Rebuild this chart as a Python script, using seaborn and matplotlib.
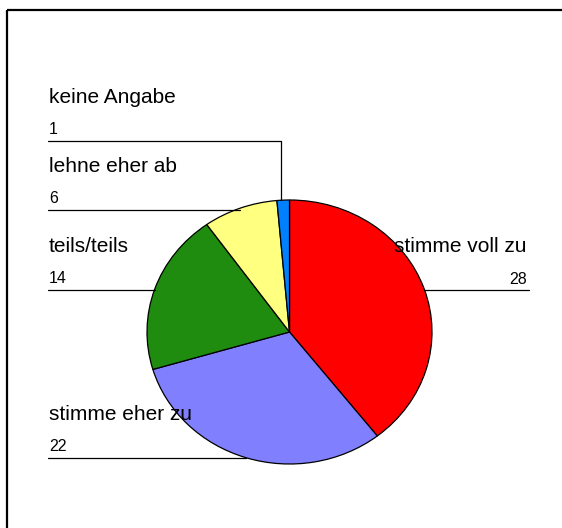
import numpy as np
import matplotlib
matplotlib.use('Agg')
import matplotlib.pyplot as plt
from matplotlib.patches import Rectangle
import seaborn as sns

labels = ['stimme voll zu', 'stimme eher zu', 'teils/teils', 'lehne eher ab', 'keine Angabe']
counts = [28, 22, 14, 6, 1]
colors = ['#FF0000', '#8080FF', '#1F8C0F', '#FFFF80', '#0080FF']

# label layout (pixels, y from top): y of leader line per slice
line_y = [290, 458, 290, 210, 141]
right_side = [True, False, False, False, False]

sns.set_theme(style='white')
plt.rcParams['font.family'] = ['Liberation Sans', 'DejaVu Sans']
plt.rcParams['text.color'] = 'black'

W, H = 562, 528
fig = plt.figure(figsize=(W / 100, H / 100), dpi=100)

# pie geometry in pixels
cx, cy, rx, ry = 289.5, 332, 142.5, 132
ax = fig.add_axes([(cx - rx) / W, (H - cy - ry) / H, 2 * rx / W, 2 * ry / H])
ax.pie(counts, colors=colors, startangle=90, counterclock=False,
       wedgeprops=dict(edgecolor='black', linewidth=0.9))
ax.set_aspect('auto')
ax.set_xlim(-1, 1)
ax.set_ylim(-1, 1)
ax.axis('off')

# overlay in pixel coordinates for frame, labels and leader lines
ov = fig.add_axes([0, 0, 1, 1], facecolor='none')
ov.set_xlim(0, W)
ov.set_ylim(H, 0)
ov.axis('off')

ov.add_patch(Rectangle((6.5, 9.5), W + 20, H + 20, fill=False,
                       edgecolor='black', lw=1.6, clip_on=False))

total = sum(counts)
start = 0.0
for lab, n, ly, right in zip(labels, counts, line_y, right_side):
    mid = np.radians((start + n / 2) / total * 360)
    start += n
    ex = cx + rx * np.sin(mid)
    ey = cy - ry * np.cos(mid)
    if right:
        ov.plot([ex, 529], [ly, ly], color='black', lw=0.9)
        ov.text(527, ly - 38, lab, ha='right', va='baseline', fontsize=15)
        ov.text(527, ly - 6, str(n), ha='right', va='baseline', fontsize=11.5)
    else:
        if abs(ey - ly) > 6:
            ov.plot([48, ex - 2, ex - 2], [ly, ly, ey], color='black', lw=0.9)
        else:
            ov.plot([48, ex], [ly, ly], color='black', lw=0.9)
        ov.text(49, ly - 38, lab, ha='left', va='baseline', fontsize=15)
        ov.text(49, ly - 7, str(n), ha='left', va='baseline', fontsize=11.5)

fig.savefig('out.png', dpi=100, facecolor='white')
